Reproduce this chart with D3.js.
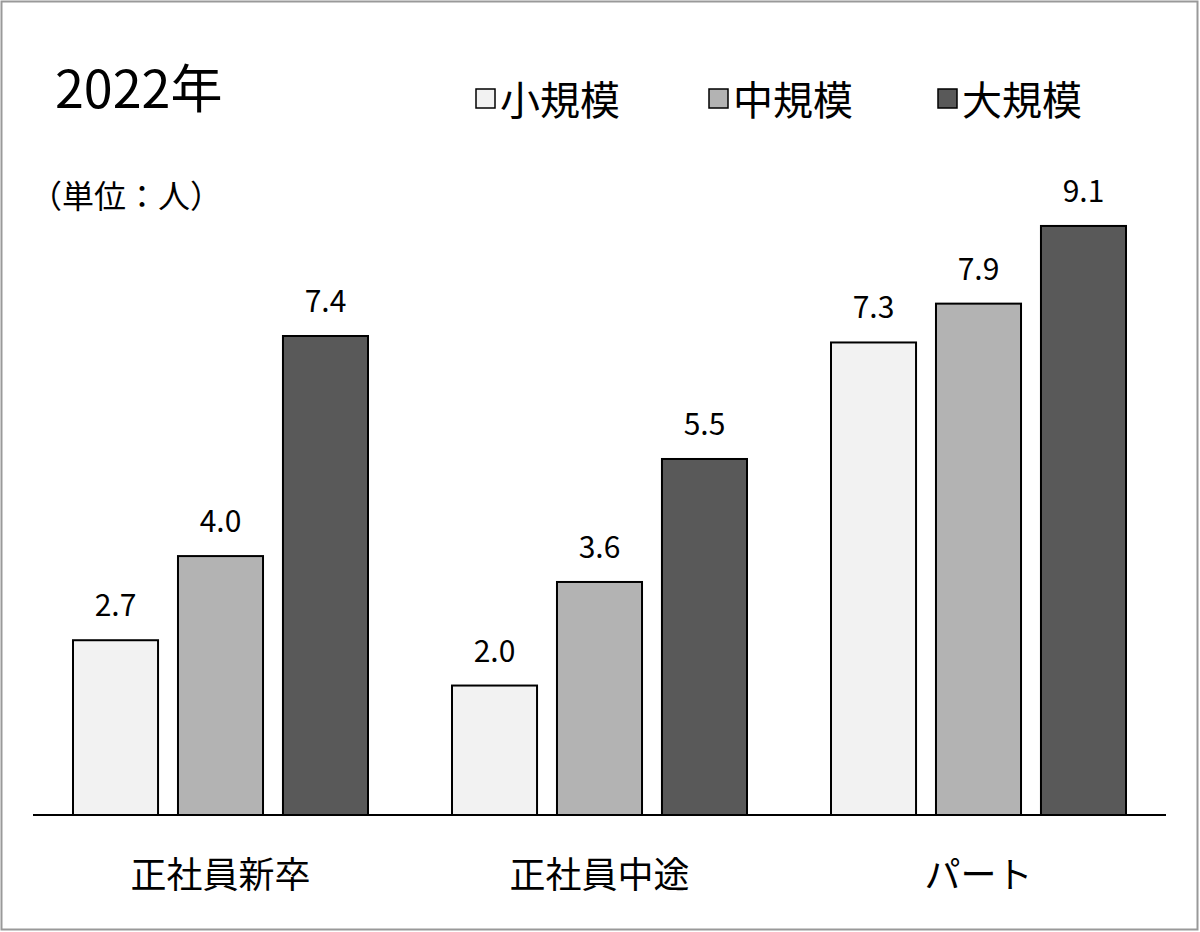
<!DOCTYPE html>
<html><head><meta charset="utf-8">
<script src="https://cdn.jsdelivr.net/npm/d3@7"></script>
<style>body{margin:0;background:#fff}</style>
</head><body>
<svg id="c" width="1200" height="932"></svg>
<script>
// data
var categories = ["正社員新卒", "正社員中途", "パート"];
var series = ["小規模", "中規模", "大規模"];
var values = [
  [2.7, 4.0, 7.4],
  [2.0, 3.6, 5.5],
  [7.3, 7.9, 9.1]
];
var colors = ["#f2f2f2", "#b3b3b3", "#595959"];

var FONT = "'Noto Sans CJK JP', 'Noto Sans', sans-serif";
var svg = d3.select("#c");

svg.append("rect").attr("x", 1.5).attr("y", 1.5).attr("width", 1196).attr("height", 928)
  .style("fill", "#fff").style("stroke", "#999").style("stroke-width", 2);

var x0 = d3.scaleBand().domain(categories).range([31, 1168]);
var x1 = d3.scaleBand().domain(series).range([-147.5, 147.5]).paddingInner(0.19);
var y = d3.scaleLinear().domain([0, 10]).range([815, 815 - 647.3]);

var g = svg.selectAll("g.grp").data(categories).enter().append("g")
  .attr("transform", function(d) { return "translate(" + (x0(d) + x0.bandwidth() / 2) + ",0)"; });

g.selectAll("rect").data(function(d, i) { return values[i]; }).enter().append("rect")
  .attr("x", function(d, j) { return x1(series[j]); })
  .attr("y", function(d) { return y(d); })
  .attr("width", x1.bandwidth())
  .attr("height", function(d) { return y(0) - y(d); })
  .style("fill", function(d, j) { return colors[j]; })
  .style("stroke", "#000").style("stroke-width", 2);

g.selectAll("text.v").data(function(d, i) { return values[i]; }).enter().append("text")
  .attr("x", function(d, j) { return x1(series[j]) + x1.bandwidth() / 2; })
  .attr("y", function(d) { return y(d) - 24; })
  .attr("text-anchor", "middle").style("font-family", FONT).style("font-size", "30px")
  .text(function(d) { return d.toFixed(1); });

// axis line
svg.append("line").attr("x1", 33).attr("x2", 1166).attr("y1", y(0)).attr("y2", y(0))
  .style("stroke", "#000").style("stroke-width", 2);

svg.selectAll("text.cat").data(categories).enter().append("text")
  .attr("x", function(d) { return x0(d) + x0.bandwidth() / 2; })
  .attr("y", 888).attr("text-anchor", "middle")
  .style("font-family", FONT).style("font-size", "36px").text(function(d) { return d; });

svg.append("text").attr("x", 55).attr("y", 108).style("font-family", FONT)
  .style("font-size", "52px").text("2022年");
svg.append("text").attr("x", 30).attr("y", 208).style("font-family", FONT)
  .style("font-size", "32px").text("（単位：人）");

// legend
var legX = [476, 709, 938];
var leg = svg.selectAll("g.leg").data(series).enter().append("g")
  .attr("transform", function(d, i) { return "translate(" + legX[i] + ",0)"; });
leg.append("rect").attr("x", 0).attr("y", 89).attr("width", 19).attr("height", 19)
  .style("fill", function(d, i) { return colors[i]; }).style("stroke", "#000").style("stroke-width", 1.5);
leg.append("text").attr("x", 24).attr("y", 115).style("font-family", FONT)
  .style("font-size", "40px").text(function(d) { return d; });
</script>
</body></html>
